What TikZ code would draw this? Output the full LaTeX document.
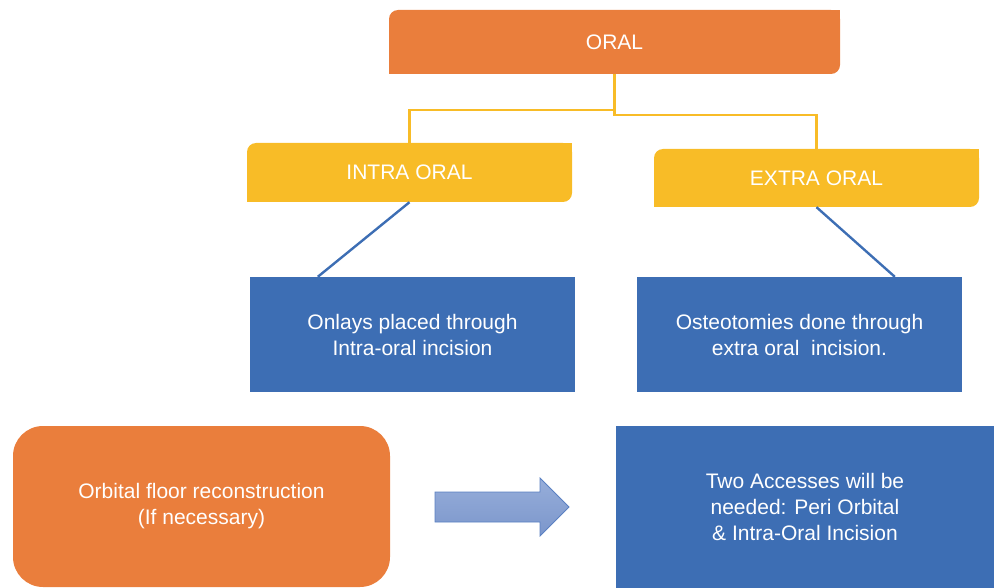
\documentclass[tikz,border=0pt]{standalone}
\usepackage{fontspec}
\setmainfont{Liberation Sans}
\definecolor{orangec}{HTML}{EA7E3C}
\definecolor{yellowc}{HTML}{F8BC27}
\definecolor{bluec}{HTML}{3D6EB4}
\definecolor{arrowtop}{HTML}{97AEDA}
\definecolor{arrowbot}{HTML}{7B96CB}
\definecolor{arrowedge}{HTML}{5A80C2}
\begin{document}
\begin{tikzpicture}[x=1pt,y=-1pt,
  txt/.style={text=white,font=\fontsize{21}{26}\selectfont,align=center,inner sep=0pt},
  orbox/.style={txt,fill=orangec,rounded corners=9pt},
  yebox/.style={txt,fill=yellowc,rounded corners=9pt},
  blbox/.style={txt,fill=bluec},
  bigor/.style={txt,fill=orangec,rounded corners=30pt},
  yline/.style={draw=yellowc,line width=2.6pt},
  bline/.style={draw=bluec,line width=2.4pt}]
\useasboundingbox (0,0) rectangle (994,588);
% top box
\node[orbox,minimum width=451pt,minimum height=64pt] (oral) at (614.5,42) {ORAL};
\fill[orangec] (oral.north east) rectangle ++(-12,12);
\fill[orangec] (oral.south west) rectangle ++(12,-12);
% second level
\node[yebox,minimum width=325pt,minimum height=59pt] (intra) at (409.5,172.5) {INTRA ORAL};
\fill[yellowc] (intra.north east) rectangle ++(-12,12);
\fill[yellowc] (intra.south west) rectangle ++(12,-12);
\node[yebox,minimum width=325pt,minimum height=58pt] (extra) at (816.5,178) {EXTRA ORAL};
\fill[yellowc] (extra.north east) rectangle ++(-12,12);
\fill[yellowc] (extra.south west) rectangle ++(12,-12);
% blue boxes
\node[blbox,minimum width=325pt,minimum height=115pt] (b1) at (412.5,334.5) {Onlays placed through\\Intra-oral incision};
\node[blbox,minimum width=325pt,minimum height=115pt] (b2) at (799.5,334.5) {Osteotomies done through\\extra oral\ \ incision.};
% connectors
\draw[yline] (oral.south) -- ++(0,36) -| (intra.north);
\draw[yline] (oral.south) -- ++(0,41) -| (extra.north);
\draw[bline] (intra.south) -- ([xshift=68pt]b1.north west);
\draw[bline] (extra.south) -- ([xshift=258pt]b2.north west);
% bottom row
\node[bigor,minimum width=377pt,minimum height=161pt] (orb) at (201.5,506.5) {\raisebox{-3pt}{\begin{tabular}{@{}c@{}}Orbital floor reconstruction\\(If necessary)\end{tabular}}};
\node[blbox,minimum width=378pt,minimum height=162pt] (two) at (805,507) {Two Accesses will be\\needed: Peri Orbital\\\& Intra-Oral Incision};
% block arrow
\coordinate (arr) at (435,507);
\shade[top color=arrowtop,bottom color=arrowbot,draw=arrowedge,line width=0.8pt]
  (arr) ++(0,-15) -- ++(105,0) -- ++(0,-14) -- ++(29,29) -- ++(-29,29) -- ++(0,-14) -- ++(-105,0) -- cycle;
\end{tikzpicture}
\end{document}
